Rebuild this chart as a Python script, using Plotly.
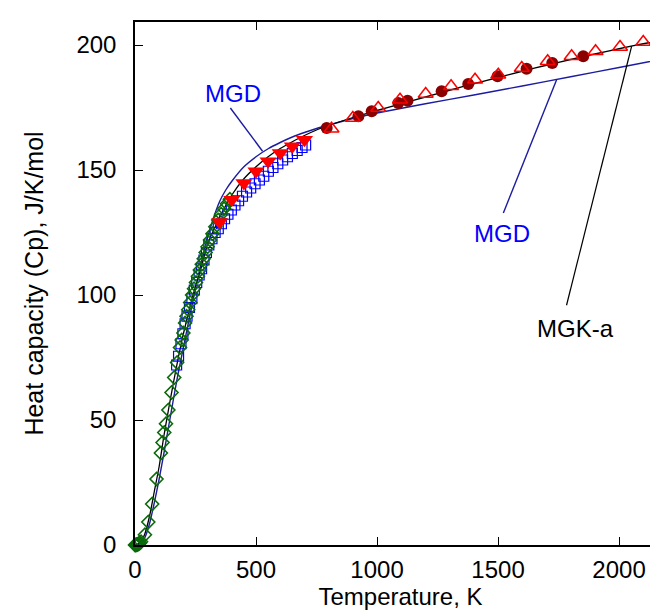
import plotly.graph_objects as go

# ---- model curves ----
mgka_T = [0, 20, 40, 60, 80, 100, 120, 140, 160, 180, 200, 225, 250, 275, 300, 325, 350, 375, 400,
          450, 500, 550, 600, 650, 700, 750, 800, 900, 1000, 1100, 1200, 1300, 1400, 1500, 1600,
          1700, 1800, 1900, 2000, 2100, 2200]
mgka_Cp = [0, 0.8, 4.3, 11.5, 21.5, 31.5, 44, 55, 65.5, 75.5, 84.5, 94.5, 103.5, 111.5, 120.5, 126, 131,
           135.8, 140, 146.5, 151.3, 155.3, 158.6, 161.3, 163.8, 166, 167.8, 171, 173.8, 176.5, 179.2,
           181.9, 184.5, 187, 189.5, 191.9, 194.2, 196.4, 198.5, 200.5, 202.3]

mgd_T = [0, 20, 40, 60, 80, 100, 120, 140, 160, 180, 200, 225, 250, 275, 300, 325, 350, 375, 400,
         450, 500, 550, 600, 650, 700, 750, 800, 900, 1000, 1200, 1400, 1600, 1800, 2000, 2200]
mgd_Cp = [0, 0.4, 2.8, 8.5, 17, 26.5, 37, 48, 59, 69.5, 79, 91, 102.5, 113.5, 123, 131, 137.5, 142,
          145.5, 151.3, 155.3, 158.5, 161, 163.2, 165, 166.6, 168, 170.6, 172.8, 176.5, 180, 183.6,
          187.3, 191, 194.8]

dia_T = [0, 3, 6, 9, 12, 16, 20, 25, 41, 55, 71, 89, 107, 114, 121, 128, 138, 151,
         162, 174, 186, 193, 200, 207, 213, 220, 228, 236, 244, 252, 260, 268, 276, 284,
         292, 300, 310, 320, 332, 344, 356, 368, 380, 392]
dia_Cp = [0, 0, 0.1, 0.2, 0.3, 0.5, 0.8, 1.3, 4.1, 9.2, 16.4, 26.4, 36.8, 41, 45, 48.5, 54, 61,
          67, 73, 79, 82, 84.8, 88.8, 91.5, 94.1, 97, 100, 102.5, 105, 107.5, 110, 112.3, 114.5,
          117, 119.3, 122, 124.5, 127.3, 130, 132.3, 134.5, 136.5, 138.3]

sq_T = [172, 180, 190, 198, 207, 215, 225, 235, 245, 255, 265, 275, 285, 295, 305, 318, 331,
        344, 357, 370, 384, 398, 413, 428, 444, 461, 478, 496, 514, 532, 551, 570, 590, 610,
        630, 650, 670, 690, 705]
sq_Cp = [72, 75.5, 80.5, 84.5, 88.5, 91.5, 95, 98.5, 102, 105, 108, 110.5, 114, 117, 120, 122.5,
         125, 126.5, 128.5, 130.5, 132.3, 134, 136, 137.7, 139.5, 141.2, 142.8, 144.5, 146, 147.5,
         149.5, 151, 152.5, 154, 155.3, 156.6, 157.8, 159, 160]

tdn_T = [350, 400, 450, 500, 550, 600, 650, 700]
tdn_Cp = [129.2, 138.1, 144.8, 149.5, 153.5, 156.8, 159.5, 162.1]

circ_T = [792, 923, 978, 1088, 1126, 1267, 1377, 1498, 1618, 1724, 1852]
circ_Cp = [166.8, 171.5, 173.5, 176.8, 177.7, 181.5, 184.4, 187.5, 190.5, 192.8, 195.5]

tup_T = [812, 900, 1005, 1095, 1201, 1306, 1405, 1501, 1598, 1705, 1804, 1903, 2004, 2100, 2174]
tup_Cp = [166.5, 170.8, 174.8, 178.1, 180.4, 183.5, 186.1, 188.1, 190.8, 193.5, 195.5, 197.5,
          199.2, 201.2, 202.8]

x_ticks = [0, 500, 1000, 1500, 2000]
y_ticks = [0, 50, 100, 150, 200]

FONT = "Liberation Sans, Arial, Helvetica, sans-serif"
NAVY = "#1c1ca0"

fig = go.Figure()
fig.add_trace(go.Scatter(x=mgd_T, y=mgd_Cp, mode="lines", line=dict(color=NAVY, width=1.4, shape="spline", smoothing=0.6), showlegend=False))
fig.add_trace(go.Scatter(x=mgka_T, y=mgka_Cp, mode="lines", line=dict(color="black", width=1.3, shape="spline", smoothing=0.6), showlegend=False))
fig.add_trace(go.Scatter(x=sq_T, y=sq_Cp, mode="markers", cliponaxis=False,
                         marker=dict(symbol="square-open", size=10, color="#0000ff", line=dict(width=1.2)), showlegend=False))
fig.add_trace(go.Scatter(x=dia_T, y=dia_Cp, mode="markers", cliponaxis=False,
                         marker=dict(symbol="diamond-open", size=10, color="#0a6a0a", line=dict(width=1.6)), showlegend=False))
fig.add_trace(go.Scatter(x=tdn_T, y=tdn_Cp, mode="markers", cliponaxis=False,
                         marker=dict(symbol="triangle-down", size=15, color="#ff0000", line=dict(width=0)), showlegend=False))
fig.add_trace(go.Scatter(x=circ_T, y=circ_Cp, mode="markers", cliponaxis=False,
                         marker=dict(symbol="circle", size=12, color="#8b0000", line=dict(width=0)), showlegend=False))
fig.add_trace(go.Scatter(x=tup_T, y=tup_Cp, mode="markers", cliponaxis=False,
                         marker=dict(symbol="triangle-up-open", size=13, color="#ff0000", line=dict(width=1.5)), showlegend=False))

# pointer lines
fig.add_shape(type="line", x0=394, y0=174.8, x1=527, y1=157.5, line=dict(color=NAVY, width=1.4))
fig.add_shape(type="line", x0=1522, y0=132.8, x1=1742, y1=186.1, line=dict(color=NAVY, width=1.4))
fig.add_shape(type="line", x0=1783, y0=95.9, x1=2052, y1=199.5, line=dict(color="black", width=1.2))

fig.add_annotation(x=405, y=180.8, text="MGD", showarrow=False, font=dict(family=FONT, size=24, color="#0000ff"))
fig.add_annotation(x=1515, y=124.8, text="MGD", showarrow=False, font=dict(family=FONT, size=24, color="#0000ff"))
fig.add_annotation(x=1818, y=86.8, text="MGK-a", showarrow=False, font=dict(family=FONT, size=24, color="black"))

axis_common = dict(showgrid=False, zeroline=False, showline=True, linecolor="black", linewidth=1.5,
                   mirror="ticks", ticks="inside", ticklen=8, tickwidth=1.4, tickcolor="black",
                   tickfont=dict(family=FONT, size=24, color="black"))

fig.update_layout(
    width=658, height=613,
    margin=dict(l=127, r=0, t=14, b=76, autoexpand=False),
    paper_bgcolor="white", plot_bgcolor="white",
    font=dict(family=FONT, size=24, color="black"),
    xaxis=dict(range=[0, 2194], tickvals=x_ticks, ticklabelstandoff=2,
               title=dict(text="Temperature, K", font=dict(family=FONT, size=24, color="black"), standoff=6),
               automargin=False, **axis_common),
    yaxis=dict(range=[0, 209.2], tickvals=y_ticks, ticklabelstandoff=12,
               title=dict(text="Heat capacity (Cp), J/K/mol", font=dict(family=FONT, size=25, color="black"), standoff=26),
               automargin=False, **axis_common),
)

fig.write_html("out.html")
